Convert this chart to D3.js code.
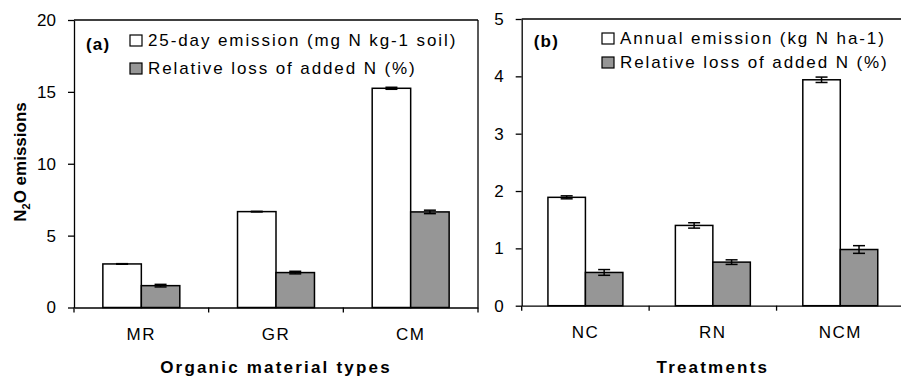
<!DOCTYPE html>
<meta charset="utf-8">
<head>
  <title>N2O emissions</title>
</head>

<style>
body {
  margin: 0;
  background: #fff;
}
svg text {
  font-family: "Liberation Sans", Arial, Helvetica, sans-serif;
  fill: #000;
}
</style>

<body>
  <svg width="901" height="377"></svg>

  <script src="https://cdnjs.cloudflare.com/ajax/libs/d3/7.8.5/d3.min.js"></script>

  <script>
// panel (a)
var catsA = ['MR', 'GR', 'CM'];
var emisA = [3.03, 6.67, 15.25];
var emisErrA = [0.02, 0.02, 0.07];
var lossA = [1.52, 2.43, 6.65];
var lossErrA = [0.09, 0.09, 0.12];
var ticksA = [0, 5, 10, 15, 20];
var legendA = ['25-day emission (mg N kg-1 soil)', 'Relative loss of added N (%)'];

// panel (b)
var catsB = ['NC', 'RN', 'NCM'];
var emisB = [1.89, 1.40, 3.94];
var emisErrB = [0.026, 0.047, 0.047];
var lossB = [0.58, 0.76, 0.98];
var lossErrB = [0.05, 0.04, 0.067];
var ticksB = [0, 1, 2, 3, 4, 5];
var legendB = ['Annual emission (kg N ha-1)', 'Relative loss of added N (%)'];

var seriesKeys = ['emis', 'loss'];
var fills = {emis: '#fff', loss: '#969696'};
var FS = 17;

var svg = d3.select('svg');

function panel(o) {
  var g = svg.append('g');

  var x0 = d3.scaleBand().domain(o.cats).range([o.left, o.right]).padding(0);
  var x1 = d3.scaleBand().domain(seriesKeys).range([0, x0.bandwidth()])
    .paddingInner(0).paddingOuter(o.pad);
  var y = d3.scaleLinear().domain([0, o.ticks[o.ticks.length - 1]]).range([o.bottom, o.top]);

  // frame top / right
  g.append('line')
    .attr('x1', o.left).attr('x2', o.right)
    .attr('y1', o.top).attr('y2', o.top)
    .attr('stroke', '#000').attr('stroke-width', 1.3);
  if (o.rightBorder) {
    g.append('line')
      .attr('x1', o.right).attr('x2', o.right)
      .attr('y1', o.top).attr('y2', o.bottom)
      .attr('stroke', '#000').attr('stroke-width', 1.3);
  }

  var rows = o.cats.map(function(c, i) {
    return {cat: c, emis: o.emis[i], emisErr: o.emisErr[i], loss: o.loss[i], lossErr: o.lossErr[i]};
  });

  // bars
  var grp = g.selectAll('.grp').data(rows).enter().append('g')
    .attr('transform', function(d) { return 'translate(' + x0(d.cat) + ',0)'; });

  grp.selectAll('rect').data(function(d) {
    return seriesKeys.map(function(k) { return {key: k, v: d[k], e: d[k + 'Err']}; });
  }).enter().append('rect')
    .attr('x', function(d) { return x1(d.key); })
    .attr('y', function(d) { return y(d.v); })
    .attr('width', x1.bandwidth())
    .attr('height', function(d) { return y(0) - y(d.v); })
    .attr('fill', function(d) { return fills[d.key]; })
    .attr('stroke', '#000').attr('stroke-width', 1.5);

  // error bars
  var eb = grp.selectAll('.eb').data(function(d) {
    return seriesKeys.map(function(k) { return {key: k, v: d[k], e: d[k + 'Err']}; });
  }).enter().append('g')
    .attr('transform', function(d) { return 'translate(' + (x1(d.key) + x1.bandwidth() / 2) + ',0)'; })
    .attr('stroke', '#000').attr('stroke-width', 1.5);
  eb.append('line').attr('y1', function(d) { return y(d.v - d.e); }).attr('y2', function(d) { return y(d.v + d.e); });
  eb.append('line').attr('x1', -6).attr('x2', 6)
    .attr('y1', function(d) { return y(d.v + d.e); }).attr('y2', function(d) { return y(d.v + d.e); });
  eb.append('line').attr('x1', -6).attr('x2', 6)
    .attr('y1', function(d) { return y(d.v - d.e); }).attr('y2', function(d) { return y(d.v - d.e); });

  // y axis
  var ya = g.append('g').attr('transform', 'translate(' + o.left + ',0)')
    .call(d3.axisLeft(y).tickValues(o.ticks).tickFormat(d3.format('d'))
      .tickSize(6).tickSizeOuter(0).tickPadding(12));
  ya.selectAll('path, line').attr('stroke', '#000').attr('stroke-width', 1.3);
  ya.selectAll('text').attr('font-size', FS).style('font-family', '"Liberation Sans", Arial, sans-serif');

  // x axis
  var xa = g.append('g').attr('transform', 'translate(0,' + o.bottom + ')')
    .call(d3.axisBottom(x0).tickSize(0).tickSizeOuter(0).tickPadding(20));
  xa.select('.domain').attr('stroke', '#000').attr('stroke-width', 1.3);
  xa.selectAll('text').attr('font-size', FS).attr('letter-spacing', 1.5)
    .style('font-family', '"Liberation Sans", Arial, sans-serif');
  var bounds = o.cats.map(function(c) { return x0(c); }).concat([o.right]);
  xa.selectAll('.bt').data(bounds).enter().append('line')
    .attr('x1', function(d) { return d; }).attr('x2', function(d) { return d; })
    .attr('y1', 0).attr('y2', 5)
    .attr('stroke', '#000').attr('stroke-width', 1.3);

  // axis title
  g.append('text')
    .attr('x', (o.left + o.right) / 2).attr('y', 373)
    .attr('text-anchor', 'middle')
    .attr('font-size', FS).attr('font-weight', 'bold').attr('letter-spacing', 2.2)
    .text(o.xTitle);

  // panel label
  g.append('text')
    .attr('x', o.left + 12).attr('y', o.labelY)
    .attr('font-size', FS).attr('font-weight', 'bold').attr('letter-spacing', 1.2)
    .text(o.label);

  // legend
  var lg = g.append('g').attr('transform', 'translate(' + o.legX + ',' + o.legY + ')');
  var li = lg.selectAll('g').data(seriesKeys).enter().append('g')
    .attr('transform', function(d, i) { return 'translate(0,' + i * o.legStep + ')'; });
  li.append('rect')
    .attr('x', 0).attr('y', -11).attr('width', 12).attr('height', 11)
    .attr('fill', function(d) { return fills[d]; })
    .attr('stroke', '#000').attr('stroke-width', 1.2);
  li.append('text')
    .attr('x', 18).attr('y', 0)
    .attr('font-size', FS).attr('letter-spacing', 1.9)
    .text(function(d, i) { return o.legend[i]; });
}

panel({
  cats: catsA, emis: emisA, emisErr: emisErrA, loss: lossA, lossErr: lossErrA,
  ticks: ticksA, legend: legendA,
  left: 74, right: 478, top: 20, bottom: 307.5, pad: 0.75, rightBorder: true,
  xTitle: 'Organic material types', label: '(a)', labelY: 50,
  legX: 130, legY: 46, legStep: 28
});

panel({
  cats: catsB, emis: emisB, emisErr: emisErrB, loss: lossB, lossErr: lossErrB,
  ticks: ticksB, legend: legendB,
  left: 521.7, right: 904, top: 19, bottom: 305.7, pad: 0.7, rightBorder: false,
  xTitle: 'Treatments', label: '(b)', labelY: 47,
  legX: 602, legY: 44, legStep: 24
});

// y title with subscript
svg.append('text')
  .attr('transform', 'translate(26,162) rotate(-90)')
  .attr('text-anchor', 'middle')
  .attr('font-size', FS).attr('font-weight', 'bold')
  .call(function(t) {
    t.append('tspan').text('N');
    t.append('tspan').attr('font-size', 11).attr('dy', 4).text('2');
    t.append('tspan').attr('dy', -4).text('O emissions');
  });
  </script>
</body>
</html>
